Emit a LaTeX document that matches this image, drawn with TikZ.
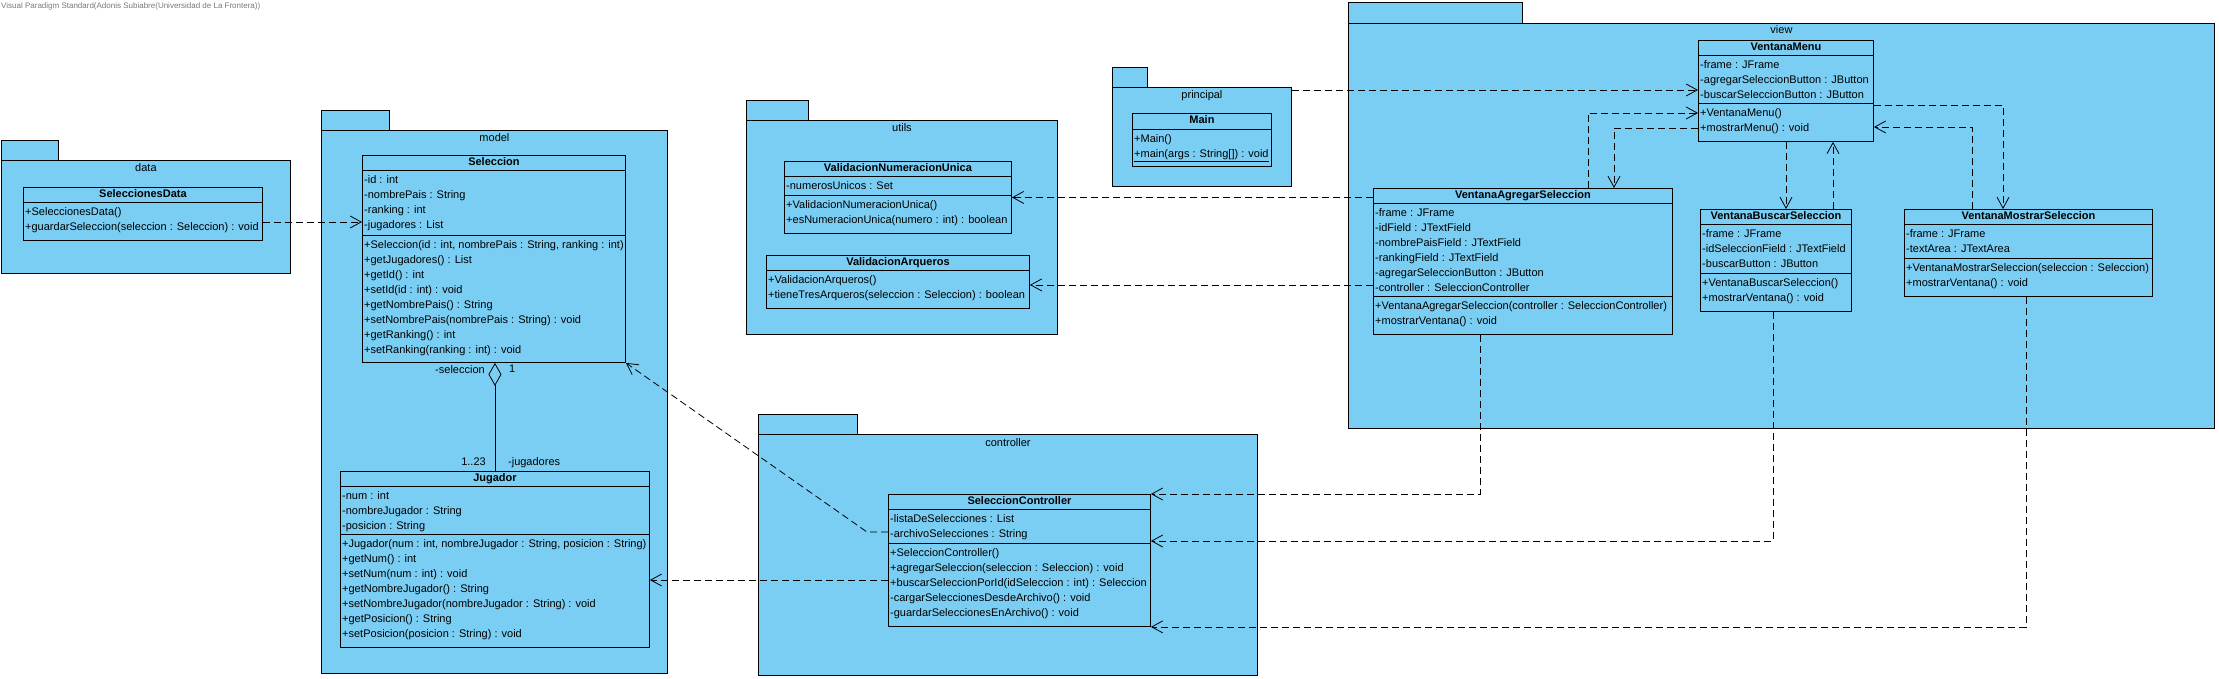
\documentclass[tikz,border=0pt]{standalone}
\usepackage{fontspec}
\setmainfont{Liberation Sans}
\usetikzlibrary{arrows.meta,positioning,calc}
\definecolor{pkgblue}{RGB}{122,206,244}
\definecolor{stampgrey}{RGB}{120,120,120}

\begin{document}
\begin{tikzpicture}[x=1pt, y=-1pt,
    pkg/.style={draw, fill=pkgblue, line width=0.9pt, anchor=north west, inner sep=0pt},
    pkgtab/.style={draw, fill=pkgblue, line width=0.9pt},
    pkgname/.style={anchor=base, inner sep=0pt, font=\fontsize{11}{15}\selectfont},
    cls/.style={draw, fill=pkgblue, line width=0.9pt, anchor=north west, inner sep=0pt},
    title/.style={inner sep=0pt, text height=8pt, text depth=2pt, font=\fontsize{11}{15}\selectfont\bfseries},
    rows/.style={anchor=north west, align=left, inner sep=0pt, font=\fontsize{11}{15}\selectfont},
    sep/.style={line width=0.9pt},
    role/.style={inner sep=0pt, font=\fontsize{11}{15}\selectfont},
    dep/.style={line width=0.8pt, dash pattern=on 7pt off 4pt, -{Straight Barb[length=11pt, width=12pt]}},
    agg/.style={line width=0.8pt, {Diamond[open, length=23pt, width=13pt]}-}
]
    \useasboundingbox (0,0) rectangle (2219,679);
    \node[anchor=west, inner sep=0pt, text=stampgrey, font=\fontsize{8}{9}\selectfont] (stamp) at (1,6) {Visual Paradigm Standard(Adonis Subiabre(Universidad de La Frontera))};

    % packages
    \draw[pkgtab] (1,140) rectangle (58,160);
    \node[pkg, minimum width=289, minimum height=113] (data) at (1,160) {};
    \node[pkgname] at ([yshift=-12pt]data.north) {data};

    \draw[pkgtab] (321,110) rectangle (389,130);
    \node[pkg, minimum width=346, minimum height=543] (model) at (321,130) {};
    \node[pkgname] at ([yshift=-12pt]model.north) {model};

    \draw[pkgtab] (746,100) rectangle (808,120);
    \node[pkg, minimum width=311, minimum height=214] (utils) at (746,120) {};
    \node[pkgname] at ([yshift=-12pt]utils.north) {utils};

    \draw[pkgtab] (1112,67) rectangle (1147,87);
    \node[pkg, minimum width=179, minimum height=99] (principal) at (1112,87) {};
    \node[pkgname] at ([yshift=-12pt]principal.north) {principal};

    \draw[pkgtab] (1348,2) rectangle (1522,23);
    \node[pkg, minimum width=866, minimum height=405] (view) at (1348,23) {};
    \node[pkgname] at ([yshift=-11pt]view.north) {view};

    \draw[pkgtab] (758,414) rectangle (857,434);
    \node[pkg, minimum width=499, minimum height=241] (controller) at (758,434) {};
    \node[pkgname] at ([yshift=-12pt]controller.north) {controller};

    % data
    \node[cls, minimum width=239, minimum height=53] (sdata) at (23,187) {};
    \node[title] at ([yshift=-7.5pt]sdata.north) {SeleccionesData};
    \draw[sep] (23,202) -- (262,202);
    \node[rows] at (25,205) {\strut+SeleccionesData()\\+guardarSeleccion(seleccion : Seleccion) : void};

    % model
    \node[cls, minimum width=263, minimum height=207] (sel) at (362,155) {};
    \node[title] at ([yshift=-7.5pt]sel.north) {Seleccion};
    \draw[sep] (362,170) -- (625,170);
    \draw[sep] (362,235) -- (625,235);
    \node[rows] at (364,173) {\strut-id : int\\-nombrePais : String\\-ranking : int\\-jugadores : List};
    \node[rows] at (364,238) {\strut+Seleccion(id : int, nombrePais : String, ranking : int)\\+getJugadores() : List\\+getId() : int\\+setId(id : int) : void\\+getNombrePais() : String\\+setNombrePais(nombrePais : String) : void\\+getRanking() : int\\+setRanking(ranking : int) : void};

    \node[cls, minimum width=309, minimum height=176] (jug) at (340,471) {};
    \node[title] at ([yshift=-7.5pt]jug.north) {Jugador};
    \draw[sep] (340,486) -- (649,486);
    \draw[sep] (340,534) -- (649,534);
    \node[rows] at (342,489) {\strut-num : int\\-nombreJugador : String\\-posicion : String};
    \node[rows] at (342,537) {\strut+Jugador(num : int, nombreJugador : String, posicion : String)\\+getNum() : int\\+setNum(num : int) : void\\+getNombreJugador() : String\\+setNombreJugador(nombreJugador : String) : void\\+getPosicion() : String\\+setPosicion(posicion : String) : void};

    % utils
    \node[cls, minimum width=227, minimum height=72] (vnu) at (784,161) {};
    \node[title] at ([yshift=-7.5pt]vnu.north) {ValidacionNumeracionUnica};
    \draw[sep] (784,176) -- (1011,176);
    \draw[sep] (784,195) -- (1011,195);
    \node[rows] at (786,179) {\strut-numerosUnicos : Set};
    \node[rows] at (786,198) {\strut+ValidacionNumeracionUnica()\\+esNumeracionUnica(numero : int) : boolean};

    \node[cls, minimum width=263, minimum height=53] (va) at (766,255) {};
    \node[title] at ([yshift=-7.5pt]va.north) {ValidacionArqueros};
    \draw[sep] (766,270) -- (1029,270);
    \node[rows] at (768,273) {\strut+ValidacionArqueros()\\+tieneTresArqueros(seleccion : Seleccion) : boolean};

    % principal
    \node[cls, minimum width=139, minimum height=53] (main) at (1132,113) {};
    \node[title] at ([yshift=-7.5pt]main.north) {Main};
    \draw[sep] (1132,129) -- (1271,129);
    \node[rows] at (1134,132) {\strut+Main()\\\underline{+main(args : String[]) : void}};

    % view
    \node[cls, minimum width=175, minimum height=101] (vm) at (1698,40) {};
    \node[title] at ([yshift=-7.5pt]vm.north) {VentanaMenu};
    \draw[sep] (1698,55) -- (1873,55);
    \draw[sep] (1698,103) -- (1873,103);
    \node[rows] at (1700,58) {\strut-frame : JFrame\\-agregarSeleccionButton : JButton\\-buscarSeleccionButton : JButton};
    \node[rows] at (1700,106) {\strut+VentanaMenu()\\+mostrarMenu() : void};

    \node[cls, minimum width=299, minimum height=146] (vas) at (1373,188) {};
    \node[title] at ([yshift=-7.5pt]vas.north) {VentanaAgregarSeleccion};
    \draw[sep] (1373,203) -- (1672,203);
    \draw[sep] (1373,296) -- (1672,296);
    \node[rows] at (1375,206) {\strut-frame : JFrame\\-idField : JTextField\\-nombrePaisField : JTextField\\-rankingField : JTextField\\-agregarSeleccionButton : JButton\\-controller : SeleccionController};
    \node[rows] at (1375,299) {\strut+VentanaAgregarSeleccion(controller : SeleccionController)\\+mostrarVentana() : void};

    \node[cls, minimum width=151, minimum height=102] (vbs) at (1700,209) {};
    \node[title] at ([yshift=-7.5pt]vbs.north) {VentanaBuscarSeleccion};
    \draw[sep] (1700,224) -- (1851,224);
    \draw[sep] (1700,273) -- (1851,273);
    \node[rows] at (1702,227) {\strut-frame : JFrame\\-idSeleccionField : JTextField\\-buscarButton : JButton};
    \node[rows] at (1702,276) {\strut+VentanaBuscarSeleccion()\\+mostrarVentana() : void};

    \node[cls, minimum width=248, minimum height=87] (vms) at (1904,209) {};
    \node[title] at ([yshift=-7.5pt]vms.north) {VentanaMostrarSeleccion};
    \draw[sep] (1904,224) -- (2152,224);
    \draw[sep] (1904,258) -- (2152,258);
    \node[rows] at (1906,227) {\strut-frame : JFrame\\-textArea : JTextArea};
    \node[rows] at (1906,261) {\strut+VentanaMostrarSeleccion(seleccion : Seleccion)\\+mostrarVentana() : void};

    % controller
    \node[cls, minimum width=262, minimum height=132] (sc) at (888,494) {};
    \node[title] at ([yshift=-7.5pt]sc.north) {SeleccionController};
    \draw[sep] (888,509) -- (1150,509);
    \draw[sep] (888,543) -- (1150,543);
    \node[rows] at (890,512) {\strut-listaDeSelecciones : List\\-archivoSelecciones : String};
    \node[rows] at (890,546) {\strut+SeleccionController()\\+agregarSeleccion(seleccion : Seleccion) : void\\+buscarSeleccionPorId(idSeleccion : int) : Seleccion\\-cargarSeleccionesDesdeArchivo() : void\\-guardarSeleccionesEnArchivo() : void};

    % aggregation
    \draw[agg] (jug.north |- sel.south) -- (jug.north);
    \node[role, anchor=mid east] (selrole) at ([xshift=-9pt, yshift=-8pt]sel.south) {-seleccion};
    \node[role, anchor=mid west] (selmult) at ([xshift=15pt, yshift=-7pt]sel.south) {1};
    \node[role, anchor=mid east] (jugmult) at ([xshift=-9pt, yshift=8pt]jug.north) {1..23};
    \node[role, anchor=mid west] (jugrole) at ([xshift=13pt, yshift=8pt]jug.north) {-jugadores};

    % dependencies
    \coordinate (sdOut) at ([yshift=-35pt]sdata.north east);
    \draw[dep] (sdOut) -- (sdOut -| sel.west);
    \coordinate (prOut) at ([yshift=-3pt]principal.north east);
    \draw[dep] (prOut) -- (prOut -| vm.west);
    \draw[dep] (vas.west |- vnu.east) -- (vnu.east);
    \coordinate (vaIn) at ([yshift=-3pt]va.east);
    \draw[dep] (vas.west |- vaIn) -- (vaIn);
    \draw[dep] ([xshift=215pt]vas.north west) |- ([yshift=-73pt]vm.north west);
    \draw[dep] ([yshift=-88pt]vm.north west) -| ([xshift=241pt]vas.north west);
    \coordinate (mvb) at ([xshift=88pt]vm.south west);
    \draw[dep] (mvb) -- (mvb |- vbs.north);
    \coordinate (bvm) at ([xshift=133pt]vbs.north west);
    \draw[dep] (bvm) -- (bvm |- vm.south);
    \draw[dep] ([yshift=-65pt]vm.north east) -| ([xshift=99pt]vms.north west);
    \draw[dep] ([xshift=68pt]vms.north west) |- ([yshift=-87pt]vm.north east);
    \draw[dep] ([xshift=107pt]vas.south west) |- (sc.north east);
    \draw[dep] ([xshift=73pt]vbs.south west) |- ([yshift=-47pt]sc.north east);
    \draw[dep] ([xshift=122pt]vms.south west) |- (sc.south east);
    \draw[dep] ([yshift=-38pt]sc.north west) -- ++(-21,0) -- (sel.south east);
    \coordinate (scOut) at ([yshift=-86pt]sc.north west);
    \draw[dep] (scOut) -- (scOut -| jug.east);
\end{tikzpicture}
\end{document}
